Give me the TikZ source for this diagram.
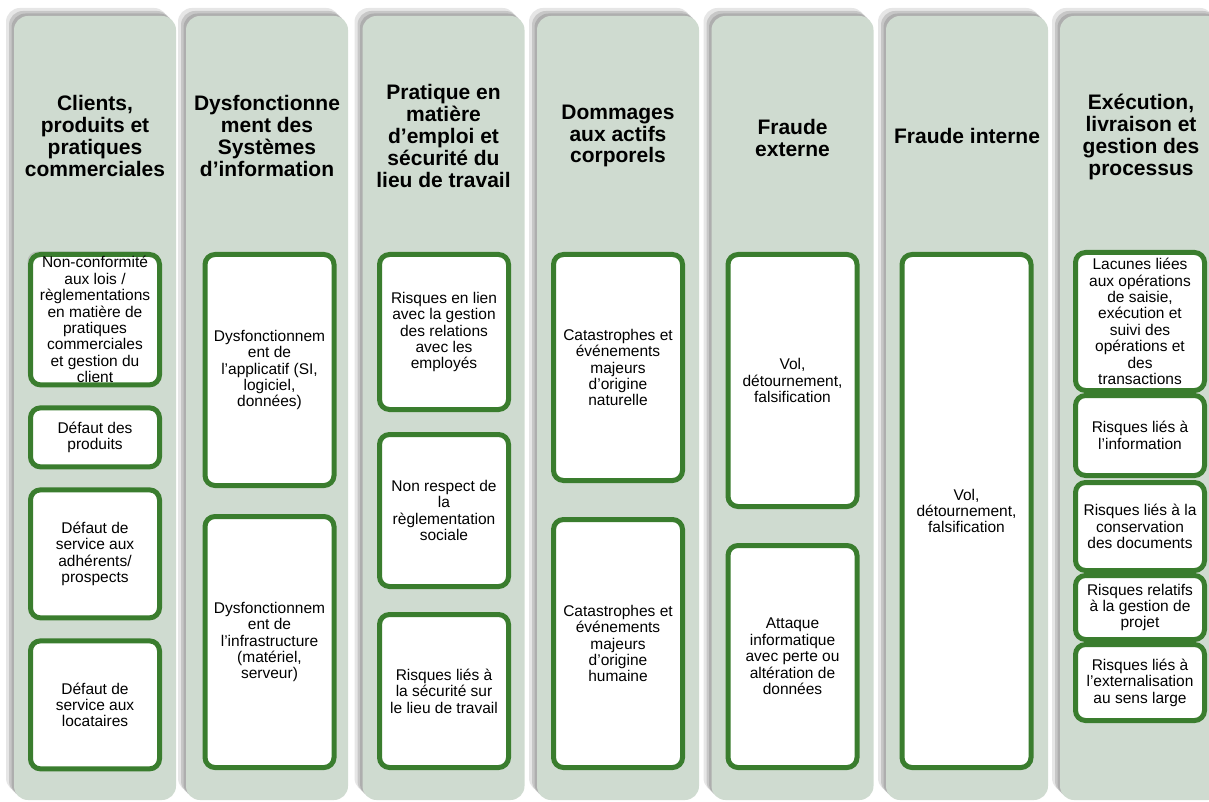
\documentclass[tikz,border=0pt]{standalone}
\usepackage{fontspec}
\setmainfont{Liberation Sans}
\usetikzlibrary{positioning,shadows}
\definecolor{sage}{HTML}{CFDBD0}
\definecolor{leaf}{HTML}{3A7D2E}

\begin{document}
\begin{tikzpicture}[x=1pt, y=-1pt,
    col node/.style={rounded corners=14pt, fill=sage, minimum width=162pt,
      minimum height=784pt, inner sep=0pt,
      drop shadow={shadow xshift=-8pt, shadow yshift=8pt, opacity=.2},
      drop shadow={shadow xshift=-5pt, shadow yshift=5pt, opacity=.3},
      drop shadow={shadow xshift=-2.5pt, shadow yshift=2.5pt, opacity=.35}},
    head node/.style={align=center, font=\fontsize{21}{21.8}\selectfont\bfseries},
    risk node/.style={draw=leaf, line width=5pt, fill=white, rounded corners=10pt,
      minimum width=129pt, inner sep=2pt, align=center,
      font=\fontsize{15.5}{16.4}\selectfont}]

  \useasboundingbox (0,0) rectangle (1209,802);

  % Columns
  \node[col node] (c1) at (95,408) {};
  \node[col node] (c2) at (267,408) {};
  \node[col node] (c3) at (443.5,408) {};
  \node[col node] (c4) at (618,408) {};
  \node[col node] (c5) at (792.5,408) {};
  \node[col node] (c6) at (967,408) {};
  \node[col node] (c7) at (1141,408) {};

  % Headers
  \node[head node] (h1) at (95,136) {Clients,\\produits et\\pratiques\\commerciales};
  \node[head node] (h2) at (267,136) {Dysfonctionne\\ment des\\Systèmes\\d’information};
  \node[head node] (h3) at (443.5,136) {Pratique en\\matière\\d’emploi et\\sécurité du\\lieu de travail};
  \node[head node] (h4) at (618,136) {Dommages\\aux actifs\\corporels};
  \node[head node] (h5) at (792.5,138) {Fraude\\externe};
  \node[head node] (h6) at (967,136) {Fraude interne};
  \node[head node] (h7) at (1141,137) {Exécution,\\livraison et\\gestion des\\processus};

  % Column 1
  \node[risk node, minimum height=128pt, anchor=north,
    drop shadow={shadow xshift=-3pt, shadow yshift=3pt, opacity=.3}] (b11) at (95,252)
    {Non-conformité\\aux lois /\\règlementations\\en matière de\\pratiques\\commerciales\\et gestion du\\client};
  \node[risk node, minimum height=59pt] (b12) [below=18pt of b11] {Défaut des\\produits};
  \node[risk node, minimum height=128pt] (b13) [below=18pt of b12] {Défaut de\\service aux\\adhérents/\\prospects};
  \node[risk node, minimum height=128pt] (b14) [below=18pt of b13] {Défaut de\\service aux\\locataires};

  % Column 2
  \node[risk node, minimum height=231pt, anchor=north] (b21) at (269.5,252)
    {Dysfonctionnem\\ent de\\l’applicatif (SI,\\logiciel,\\données)};
  \node[risk node, minimum height=251pt] (b22) [below=26pt of b21]
    {Dysfonctionnem\\ent de\\l’infrastructure\\(matériel,\\serveur)};

  % Column 3
  \node[risk node, minimum height=155pt, anchor=north] (b31) at (444,252)
    {Risques en lien\\avec la gestion\\des relations\\avec les\\employés};
  \node[risk node, minimum height=152pt] (b32) [below=20pt of b31]
    {Non respect de\\la\\règlementation\\sociale};
  \node[risk node, minimum height=153pt] (b33) [below=23pt of b32]
    {Risques liés à\\la sécurité sur\\le lieu de travail};

  % Column 4
  \node[risk node, minimum height=226pt, anchor=north] (b41) at (618,252)
    {Catastrophes et\\événements\\majeurs\\d’origine\\naturelle};
  \node[risk node, minimum height=248pt] (b42) [below=34pt of b41]
    {Catastrophes et\\événements\\majeurs\\d’origine\\humaine};

  % Column 5
  \node[risk node, minimum height=252pt, anchor=north] (b51) at (792.5,252)
    {Vol,\\détournement,\\falsification};
  \node[risk node, minimum height=222pt] (b52) [below=34pt of b51]
    {Attaque\\informatique\\avec perte ou\\altération de\\données};

  % Column 6
  \node[risk node, minimum height=513pt, anchor=north] (b61) at (966.5,252)
    {Vol,\\détournement,\\falsification};

  % Column 7
  \node[risk node, minimum height=138pt, anchor=north] (b71) at (1140,250)
    {Lacunes liées\\aux opérations\\de saisie,\\exécution et\\suivi des\\opérations et\\des\\transactions};
  \node[risk node, minimum height=80pt] (b72) [below=0pt of b71] {Risques liés à\\l'information};
  \node[risk node, minimum height=88pt] (b73) [below=2pt of b72] {Risques liés à la\\conservation\\des documents};
  \node[risk node, minimum height=64pt] (b74) [below=0pt of b73] {Risques relatifs\\à la gestion de\\projet};
  \node[risk node, minimum height=76pt] (b75) [below=0pt of b74] {Risques liés à\\l’externalisation\\au sens large};
\end{tikzpicture}
\end{document}
